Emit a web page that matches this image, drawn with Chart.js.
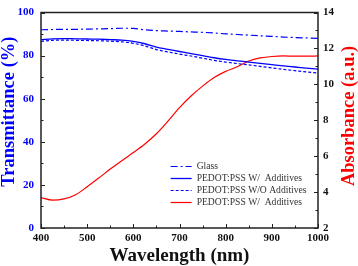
<!DOCTYPE html>
<html>
<head>
<meta charset="utf-8">
<script src="https://cdn.jsdelivr.net/npm/chart.js@4"></script>
<style>
html,body{margin:0;padding:0;background:#fff;}
#wrap{width:358px;height:266px;position:relative;}
</style>
</head>
<body>
<div id="wrap"><canvas id="c" width="358" height="266"></canvas></div>
<script>
// ---- data ----
const wavelengths = [400,425,450,475,500,525,550,575,600,625,650,675,700,725,750,775,800,825,850,875,900,925,950,975,1000];
const glassT   = [92.0,92.1,92.2,92.2,92.3,92.4,92.5,92.7,92.6,92.0,91.6,91.4,91.2,91.0,90.8,90.5,90.1,89.8,89.5,89.2,88.9,88.6,88.4,88.2,88.0];
const withT    = [87.4,87.8,87.9,87.8,87.7,87.6,87.4,87.2,86.6,85.5,83.9,82.9,81.9,80.9,80.0,79.0,78.2,77.6,77.0,76.4,75.8,75.2,74.7,74.2,73.7];
const withoutT = [86.6,87.1,87.2,87.1,87.0,86.9,86.7,86.4,85.7,84.5,82.8,81.7,80.7,79.8,78.8,77.8,77.0,76.3,75.7,75.0,74.3,73.6,73.0,72.4,71.9];
const withAbs  = [3.69,3.55,3.62,3.85,4.30,4.78,5.28,5.75,6.20,6.68,7.25,7.95,8.70,9.35,9.90,10.38,10.72,10.98,11.30,11.47,11.55,11.58,11.57,11.57,11.58];
const seriesLabels = ["Glass","PEDOT:PSS W/  Additives","PEDOT:PSS W/O Additives","PEDOT:PSS W/  Additives"];
const xTicks = [400,500,600,700,800,900,1000];
const yLeftTicks = [0,20,40,60,80,100];
const yRightTicks = [2,4,6,8,10,12,14];
const xTitle = 'Wavelength (nm)';
const yLeftTitle = 'Transmittance (%)';
const yRightTitle = 'Absorbance (a.u.)';

const pts = arr => arr.map((v,i)=>({x:wavelengths[i], y:v}));
const SERIF = "'Liberation Serif','Times New Roman',serif";
const BLUE = '#0000ff', RED = '#ff0000';

const frame = {
  id:'frame',
  afterDatasetsDraw(chart){
    const {ctx, chartArea:a, scales} = chart;
    ctx.save();
    ctx.strokeStyle = '#222';
    ctx.lineWidth = 1;
    // inward ticks
    const drawY = (sc, edge, dir) => {
      const t = sc.ticks.map(t=>t.value);
      const step = t[1]-t[0];
      for (let v = sc.min; v <= sc.max + 1e-9; v += step/2) {
        const major = Math.abs(((v - sc.min)/step) - Math.round((v - sc.min)/step)) < 1e-6;
        const len = major ? 4 : 2.5;
        const y = Math.round(sc.getPixelForValue(v)) + 0.5;
        ctx.beginPath(); ctx.moveTo(edge, y); ctx.lineTo(edge + dir*len, y); ctx.stroke();
      }
    };
    drawY(scales.y, a.left, 1);
    drawY(scales.y2, a.right, -1);
    const xs = scales.x;
    for (let v = xs.min; v <= xs.max + 1e-9; v += 50) {
      const major = v % 100 === 0;
      const len = major ? 4 : 2.5;
      const x = Math.round(xs.getPixelForValue(v)) + 0.5;
      ctx.beginPath(); ctx.moveTo(x, a.bottom); ctx.lineTo(x, a.bottom - len); ctx.stroke();
    }
    ctx.lineWidth = 1.5;
    ctx.strokeRect(a.left, a.top, a.right - a.left, a.bottom - a.top);

    // vertical axis titles (both read bottom-to-top)
    ctx.font = "bold 18.5px " + SERIF;
    ctx.textAlign = 'center';
    ctx.textBaseline = 'middle';
    ctx.fillStyle = BLUE;
    ctx.save(); ctx.translate(9, a.top + (a.bottom - a.top)*0.46); ctx.rotate(-Math.PI/2); ctx.fillText(yLeftTitle, 0, 0); ctx.restore();
    ctx.fillStyle = RED;
    ctx.save(); ctx.translate(349.5, a.top + (a.bottom - a.top)*0.48); ctx.rotate(-Math.PI/2); ctx.fillText(yRightTitle, 0, 0); ctx.restore();

    // legend
    const ds = chart.data.datasets;
    const lx0 = a.left + (a.right - a.left) * 0.468;
    const lx1 = lx0 + 21;
    const tx = lx1 + 5;
    const y0 = a.top + (a.bottom - a.top) * 0.714;
    const dy = 11.8;
    ctx.font = "9.6px " + SERIF;
    ctx.textBaseline = 'middle';
    ctx.textAlign = 'left';
    ds.forEach((d,i)=>{
      const y = Math.round(y0 + i*dy) + 0.5;
      ctx.strokeStyle = d.borderColor;
      ctx.lineWidth = d.borderWidth;
      ctx.setLineDash(d.borderDash || []);
      ctx.beginPath(); ctx.moveTo(lx0, y); ctx.lineTo(lx1, y); ctx.stroke();
      ctx.setLineDash([]);
      ctx.fillStyle = '#333';
      ctx.fillText(d.label, tx, y);
    });
    ctx.restore();
  }
};

new Chart(document.getElementById('c'), {
  type:'line',
  data:{
    datasets:[
      {label:seriesLabels[0], data:pts(glassT), borderColor:BLUE, borderWidth:1.2, borderDash:[7,3,2,3], yAxisID:'y'},
      {label:seriesLabels[1], data:pts(withT), borderColor:BLUE, borderWidth:1.3, yAxisID:'y'},
      {label:seriesLabels[2], data:pts(withoutT), borderColor:BLUE, borderWidth:1.2, borderDash:[3,2], yAxisID:'y'},
      {label:seriesLabels[3], data:pts(withAbs), borderColor:RED, borderWidth:1.2, yAxisID:'y2'}
    ]
  },
  options:{
    responsive:false,
    animation:false,
    devicePixelRatio:1,
    layout:{padding:{top:6,bottom:0,left:0,right:0}},
    elements:{point:{radius:0}, line:{cubicInterpolationMode:'monotone', fill:false}},
    plugins:{legend:{display:false}, tooltip:{enabled:false}},
    scales:{
      x:{
        type:'linear', min:400, max:1000,
        afterBuildTicks: s => { s.ticks = xTicks.map(v=>({value:v})); },
        afterFit: s => { s.height = 38; },
        grid:{display:false, drawTicks:false},
        border:{display:false},
        ticks:{color:'#111', padding:4, maxRotation:0, autoSkip:false, callback: v => String(v), font:{family:SERIF, size:11, weight:'bold', lineHeight:1.2}},
        title:{display:true, text:xTitle, color:'#111', padding:0, font:{family:SERIF, size:19, weight:'bold', lineHeight:1}}
      },
      y:{
        type:'linear', position:'left', min:0, max:100,
        afterBuildTicks: s => { s.ticks = yLeftTicks.map(v=>({value:v})); },
        afterFit: s => { s.width = 41; },
        grid:{display:false, drawTicks:false},
        border:{display:false},
        ticks:{color:BLUE, padding:7, font:{family:SERIF, size:11, weight:'bold', lineHeight:1}},
        title:{display:false}
      },
      y2:{
        type:'linear', position:'right', min:2, max:14,
        afterBuildTicks: s => { s.ticks = yRightTicks.map(v=>({value:v})); },
        afterFit: s => { s.width = 40; },
        grid:{display:false, drawTicks:false},
        border:{display:false},
        ticks:{color:'#111', padding:5, font:{family:SERIF, size:11, weight:'bold', lineHeight:1}},
        title:{display:false}
      }
    }
  },
  plugins:[frame]
});
</script>
</body>
</html>
